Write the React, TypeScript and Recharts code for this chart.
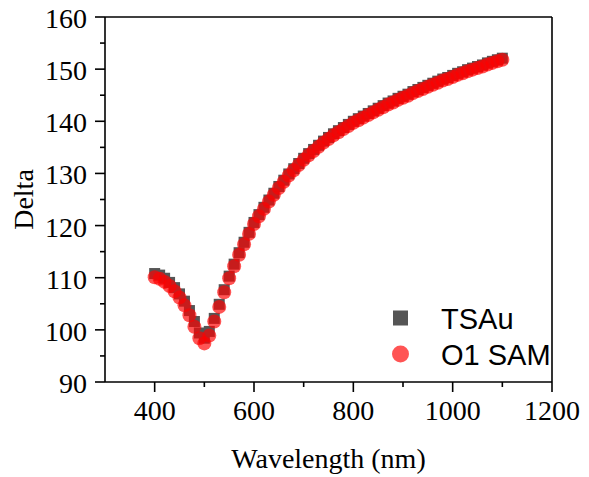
import {
  Legend,
  ReferenceLine,
  Scatter,
  ScatterChart,
  XAxis,
  YAxis,
} from "recharts";

// wavelength (nm)
const wavelength = [
  400, 410, 420, 430, 440, 450, 460, 470, 480, 490, 500, 510, 520, 530, 540,
  550, 560, 570, 580, 590, 600, 610, 620, 630, 640, 650, 660, 670, 680, 690,
  700, 710, 720, 730, 740, 750, 760, 770, 780, 790, 800, 810, 820, 830, 840,
  850, 860, 870, 880, 890, 900, 910, 920, 930, 940, 950, 960, 970, 980, 990,
  1000, 1010, 1020, 1030, 1040, 1050, 1060, 1070, 1080, 1090, 1100,
];

const deltaTSAu = [
  110.8, 110.5, 109.9, 109.1, 108.1, 106.9, 105.5, 103.7, 101.6, 99.4, 98.4,
  99.7, 102.2, 104.9, 107.7, 110.3, 112.6, 114.8, 116.8, 118.7, 120.6, 122.1,
  123.5, 124.9, 126.2, 127.5, 128.7, 129.9, 130.9, 131.9, 132.9, 133.8, 134.6,
  135.4, 136.2, 136.9, 137.6, 138.2, 138.8, 139.4, 140.0, 140.5, 141.0, 141.5,
  142.0, 142.5, 143.0, 143.5, 143.9, 144.4, 144.8, 145.2, 145.7, 146.1, 146.5,
  146.9, 147.3, 147.7, 148.1, 148.4, 148.8, 149.2, 149.5, 149.9, 150.2, 150.5,
  150.8, 151.2, 151.5, 151.8, 152.1,
];

const deltaO1SAM = [
  110.1, 109.8, 109.2, 108.4, 107.4, 106.2, 104.7, 102.8, 100.6, 98.4, 97.4,
  98.9, 101.6, 104.4, 107.2, 109.9, 112.2, 114.4, 116.4, 118.4, 120.3, 121.8,
  123.2, 124.6, 125.9, 127.2, 128.4, 129.6, 130.6, 131.6, 132.6, 133.5, 134.3,
  135.1, 135.9, 136.6, 137.3, 137.9, 138.5, 139.1, 139.7, 140.2, 140.7, 141.2,
  141.7, 142.2, 142.7, 143.2, 143.6, 144.1, 144.5, 144.9, 145.4, 145.8, 146.2,
  146.6, 147.0, 147.4, 147.8, 148.1, 148.5, 148.9, 149.2, 149.6, 149.9, 150.2,
  150.5, 150.9, 151.2, 151.5, 151.8,
];

const seriesNames = ["TSAu", "O1 SAM"];
const xTicks = [400, 500, 600, 700, 800, 900, 1000, 1100, 1200];
const xLabels = [400, 600, 800, 1000, 1200];
const yTicks = [90, 95, 100, 105, 110, 115, 120, 125, 130, 135, 140, 145, 150, 155, 160];
const yLabels = [90, 100, 110, 120, 130, 140, 150, 160];

const tsauData = wavelength.map((x, i) => ({ x, y: deltaTSAu[i] }));
const o1Data = wavelength.map((x, i) => ({ x, y: deltaO1SAM[i] }));

const SERIF = "'Liberation Serif', 'Times New Roman', serif";
const SANS = "'Liberation Sans', Arial, sans-serif";

function XTick(props: any) {
  const { x, y, payload } = props;
  const major = xLabels.includes(payload.value);
  return (
    <g>
      <line x1={x} x2={x} y1={y} y2={y + (major ? 10 : 5)} stroke="#000" strokeWidth={1.6} />
      {major && (
        <text x={x} y={y + 38} textAnchor="middle" fontSize={28} fontFamily={SERIF} fill="#000">
          {payload.value}
        </text>
      )}
    </g>
  );
}

function YTick(props: any) {
  const { x, y, payload } = props;
  const major = yLabels.includes(payload.value);
  return (
    <g>
      <line x1={x} x2={x - (major ? 10 : 5)} y1={y} y2={y} stroke="#000" strokeWidth={1.6} />
      {major && (
        <text x={x - 18} y={y + 11} textAnchor="end" fontSize={28} fontFamily={SERIF} fill="#000">
          {payload.value}
        </text>
      )}
    </g>
  );
}

function Square(props: any) {
  const { cx, cy } = props;
  return <rect x={cx - 5.5} y={cy - 5.5} width={11} height={11} fill="#555555" />;
}

function Dot(props: any) {
  const { cx, cy } = props;
  return <circle cx={cx} cy={cy} r={7} fill="#ff0000" fillOpacity={0.67} />;
}

function LegendBox({ payload }: any) {
  const items = [...(payload || [])].sort(
    (a: any, b: any) => seriesNames.indexOf(a.value) - seriesNames.indexOf(b.value)
  );
  return (
    <svg width={200} height={80}>
      {items.map((entry: any, i: number) => {
        const cy = 18 + i * 36;
        return (
          <g key={entry.value}>
            {entry.value === "TSAu" ? (
              <rect x={8} y={cy - 7.5} width={15} height={15} fill="#555555" />
            ) : (
              <circle cx={15.5} cy={cy} r={8.5} fill="#ff0000" fillOpacity={0.67} />
            )}
            <text x={56} y={cy + 11} fontSize={29} fontFamily={SANS} fill="#000">
              {entry.value}
            </text>
          </g>
        );
      })}
    </svg>
  );
}

export default function App() {
  return (
    <div style={{ position: "absolute", left: 0, top: 0, background: "#fff" }}>
      <ScatterChart
        width={589}
        height={477}
        margin={{ top: 17, right: 37, bottom: 0, left: 0 }}
      >
        <XAxis
          type="number"
          dataKey="x"
          domain={[300, 1200]}
          ticks={xTicks}
          interval={0}
          height={95}
          tickSize={0}
          tickMargin={0}
          tickLine={false}
          axisLine={{ stroke: "#000", strokeWidth: 1.6 }}
          tick={<XTick />}
          label={(p: any) => {
            const vb = p.viewBox;
            return (
              <text
                x={vb.x + vb.width / 2}
                y={vb.y + 86}
                textAnchor="middle"
                fontSize={28}
                fontFamily={SERIF}
                fill="#000"
              >
                Wavelength (nm)
              </text>
            );
          }}
        />
        <YAxis
          type="number"
          dataKey="y"
          domain={[90, 160]}
          ticks={yTicks}
          interval={0}
          width={105}
          tickSize={0}
          tickMargin={0}
          tickLine={false}
          axisLine={{ stroke: "#000", strokeWidth: 1.6 }}
          tick={<YTick />}
          label={(p: any) => {
            const vb = p.viewBox;
            const cx = vb.x + 33;
            const cy = vb.y + vb.height / 2;
            return (
              <text
                x={cx}
                y={cy}
                transform={`rotate(-90, ${cx}, ${cy})`}
                textAnchor="middle"
                fontSize={28}
                fontFamily={SERIF}
                fill="#000"
              >
                Delta
              </text>
            );
          }}
        />
        <ReferenceLine y={160} stroke="#000" strokeWidth={1.6} />
        <ReferenceLine x={1200} stroke="#000" strokeWidth={1.6} />
        <Scatter
          name="TSAu"
          data={tsauData}
          fill="#555555"
          shape={<Square />}
          isAnimationActive={false}
        />
        <Scatter
          name="O1 SAM"
          data={o1Data}
          fill="#ff5555"
          shape={<Dot />}
          isAnimationActive={false}
        />
        <Legend
          layout="horizontal"
          verticalAlign="middle"
          align="center"
          wrapperStyle={{ left: 385, top: 300, width: 200, height: 80 }}
          content={<LegendBox />}
        />
      </ScatterChart>
    </div>
  );
}
